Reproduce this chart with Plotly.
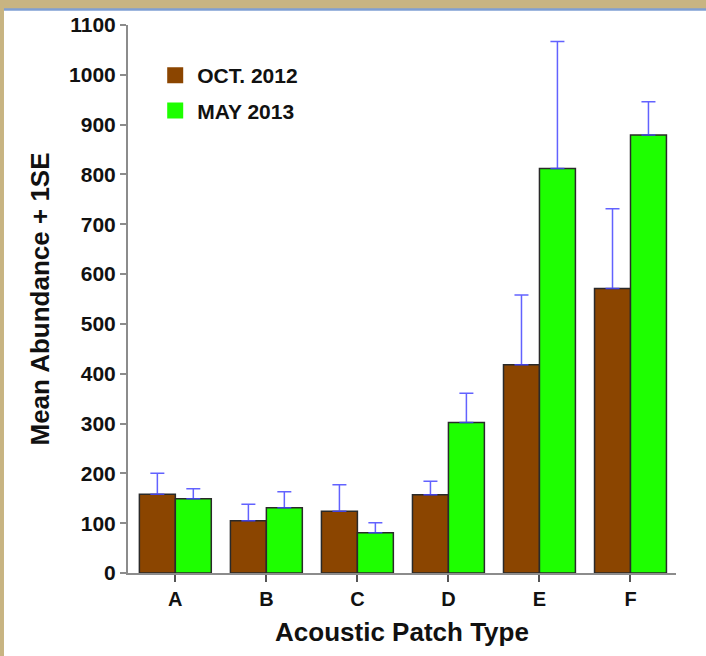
import plotly.graph_objects as go

categories = ["A", "B", "C", "D", "E", "F"]
oct_2012_mean = [158, 105, 124, 157, 418, 571]
oct_2012_se = [42, 33, 53, 27, 140, 160]
may_2013_mean = [149, 131, 81, 302, 812, 879]
may_2013_se = [20, 32, 20, 59, 255, 67]
series_names = ["OCT. 2012", "MAY 2013"]
series_colors = ["#8B4500", "#1EFF00"]
y_ticks = list(range(0, 1101, 100))

FONT = "Liberation Sans, Arial, sans-serif"
ERR_COLOR = "rgba(70,70,255,0.85)"

fig = go.Figure()
for name, color, mean, se in zip(series_names, series_colors,
                                 [oct_2012_mean, may_2013_mean],
                                 [oct_2012_se, may_2013_se]):
    fig.add_trace(go.Bar(
        x=categories, y=mean, name=name, showlegend=False,
        marker=dict(color=color, line=dict(color="#2a2a2a", width=1.5)),
        error_y=dict(type="data", array=se, symmetric=False,
                     arrayminus=[0] * len(categories),
                     color=ERR_COLOR, thickness=1.5, width=7),
    ))
# legend entries with larger square swatches
for name, color in zip(series_names, series_colors):
    fig.add_trace(go.Scatter(
        x=[None], y=[None], mode="markers", name=name, legendgroup=name,
        marker=dict(symbol="square", size=16, color=color),
    ))

# white slide panel over a tan background
fig.add_shape(type="rect", xref="paper", yref="paper",
              x0=-0.2263, x1=1.1, y0=-0.2, y1=1.0274,
              fillcolor="white", line=dict(width=0), layer="below")
fig.add_shape(type="line", xref="paper", yref="paper",
              x0=-0.2263, x1=1.1, y0=1.0283, y1=1.0283,
              line=dict(color="#7f9fd3", width=2.5), layer="below")

fig.update_layout(
    width=706, height=656,
    margin=dict(l=128, r=30, t=25, b=83),
    paper_bgcolor="#c8b482",
    plot_bgcolor="white",
    barmode="group", bargap=0.21, bargroupgap=0,
    font=dict(family=FONT, color="black"),
    showlegend=True,
    legend=dict(x=0.046, y=0.945, xanchor="left", yanchor="top",
                bgcolor="rgba(0,0,0,0)",
                font=dict(family=FONT, size=21, color="#111111", weight="bold"),
                itemsizing="trace", itemwidth=34, tracegroupgap=5),
    xaxis=dict(
        range=[-0.52, 5.5], showgrid=False, zeroline=False,
        showline=True, linecolor="#8c8c8c", linewidth=2,
        ticks="outside", ticklen=7, tickcolor="#555555", tickwidth=1.5,
        tickfont=dict(family=FONT, size=20, color="#111111", weight="bold"),
        title=dict(text="Acoustic Patch Type", standoff=14,
                   font=dict(family=FONT, size=26, color="#111111", weight="bold")),
    ),
    yaxis=dict(
        range=[0, 1100], tickvals=y_ticks, showgrid=False, zeroline=False,
        showline=True, linecolor="#8c8c8c", linewidth=2,
        ticks="outside", ticklen=6, tickcolor="#8c8c8c", tickwidth=1.5,
        tickfont=dict(family=FONT, size=21, color="#111111", weight="bold"),
        title=dict(text="Mean Abundance + 1SE", standoff=12,
                   font=dict(family=FONT, size=26, color="#111111", weight="bold")),
    ),
)

fig.write_html("out.html")
